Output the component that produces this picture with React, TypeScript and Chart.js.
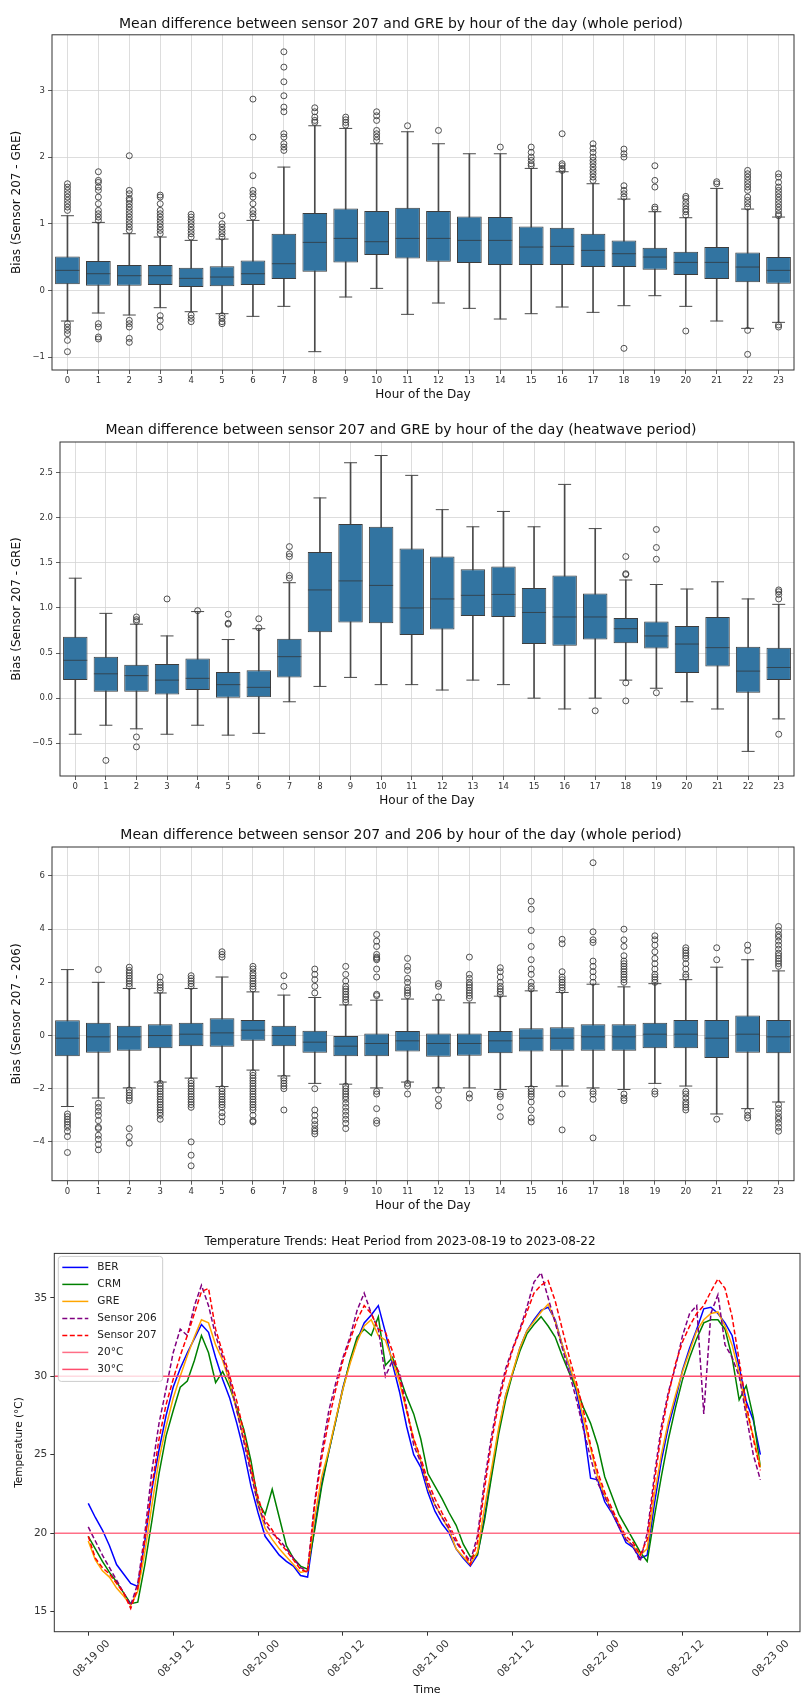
import React, { useEffect, useRef } from 'react';
import { Chart, registerables } from 'chart.js';

Chart.register(...registerables);
Chart.defaults.font.family = '"DejaVu Sans", sans-serif';

// ---------------- shared categories ----------------
const HOURS = ['0','1','2','3','4','5','6','7','8','9','10','11','12','13','14','15','16','17','18','19','20','21','22','23'];

// ---------------- panel 1: sensor 207 - GRE (whole period) ----------------
const P1_LOW = [-0.46,-0.34,-0.37,-0.26,-0.32,-0.35,-0.39,-0.24,-0.92,-0.10,0.03,-0.36,-0.19,-0.27,-0.43,-0.35,-0.25,-0.33,-0.23,-0.08,-0.24,-0.46,-0.57,-0.48];
const P1_Q1 = [0.09,0.07,0.07,0.08,0.05,0.06,0.08,0.17,0.28,0.42,0.53,0.48,0.43,0.41,0.38,0.38,0.38,0.35,0.35,0.31,0.23,0.17,0.12,0.10];
const P1_MED = [0.30,0.25,0.22,0.22,0.18,0.20,0.25,0.40,0.72,0.78,0.73,0.78,0.78,0.75,0.75,0.65,0.66,0.60,0.55,0.50,0.42,0.42,0.35,0.30];
const P1_Q3 = [0.51,0.44,0.38,0.38,0.34,0.36,0.45,0.85,1.16,1.23,1.19,1.24,1.19,1.11,1.10,0.96,0.94,0.85,0.75,0.64,0.58,0.65,0.57,0.50];
const P1_HIGH = [1.12,1.02,0.85,0.80,0.75,0.77,1.05,1.85,2.47,2.43,2.20,2.38,2.20,2.05,2.05,1.83,1.78,1.60,1.37,1.18,1.09,1.53,1.22,1.10];
const P1_OUT = [
  [1.2,1.25,1.3,1.35,1.4,1.45,1.5,1.55,1.6,-0.5,-0.55,-0.6,-0.65,-0.75,-0.92],
  [1.05,1.1,1.15,1.2,1.3,1.4,1.5,1.55,1.62,1.65,1.78,-0.5,-0.55,-0.7,-0.73],
  [0.9,0.95,1.0,1.05,1.1,1.15,1.2,1.25,1.3,1.35,1.38,1.45,1.5,2.02,-0.45,-0.5,-0.55,-0.72,-0.78],
  [0.85,0.9,0.95,1.0,1.05,1.1,1.15,1.2,1.3,1.4,1.43,-0.38,-0.45,-0.55],
  [0.8,0.85,0.9,0.95,1.0,1.05,1.1,1.14,-0.37,-0.42,-0.47],
  [0.8,0.85,0.9,0.95,1.0,1.12,-0.38,-0.42,-0.47,-0.5],
  [1.1,1.15,1.2,1.3,1.4,1.45,1.5,1.72,2.3,2.87],
  [2.1,2.15,2.2,2.3,2.35,2.68,2.75,2.92,3.13,3.35,3.58],
  [2.52,2.55,2.6,2.68,2.74],
  [2.48,2.52,2.56,2.6],
  [2.25,2.3,2.35,2.4,2.55,2.62,2.68],
  [2.47],
  [2.4],
  [],
  [2.15],
  [1.87,1.9,1.95,2.0,2.07,2.15],
  [1.8,1.83,1.87,1.9,2.35],
  [1.65,1.7,1.75,1.8,1.85,1.9,1.95,2.0,2.07,2.13,2.2],
  [1.4,1.45,1.5,1.57,2.0,2.05,2.12,-0.87],
  [1.22,1.25,1.55,1.65,1.87],
  [1.13,1.18,1.22,1.27,1.32,1.38,1.41,-0.61],
  [1.6,1.63],
  [1.25,1.3,1.35,1.4,1.5,1.55,1.6,1.65,1.7,1.75,1.8,-0.6,-0.96],
  [1.12,1.15,1.2,1.25,1.3,1.35,1.4,1.45,1.5,1.55,1.62,1.7,1.75,-0.52,-0.55],
];

// ---------------- panel 2: sensor 207 - GRE (heatwave period) ----------------
const P2_LOW = [-0.40,-0.30,-0.34,-0.40,-0.30,-0.41,-0.39,-0.04,0.13,0.23,0.15,0.15,0.09,0.20,0.15,0.00,-0.12,0.00,0.20,0.11,-0.04,-0.12,-0.59,-0.23];
const P2_Q1 = [0.20,0.07,0.07,0.04,0.09,0.00,0.01,0.23,0.73,0.84,0.83,0.70,0.76,0.91,0.90,0.60,0.58,0.65,0.61,0.55,0.28,0.35,0.06,0.20];
const P2_MED = [0.42,0.27,0.25,0.20,0.22,0.15,0.12,0.46,1.20,1.30,1.25,1.00,1.10,1.14,1.15,0.95,0.90,0.90,0.77,0.69,0.60,0.56,0.30,0.34];
const P2_Q3 = [0.68,0.46,0.37,0.38,0.44,0.29,0.31,0.66,1.62,1.93,1.90,1.66,1.57,1.43,1.46,1.22,1.36,1.16,0.89,0.85,0.80,0.90,0.57,0.56];
const P2_HIGH = [1.33,0.94,0.82,0.69,0.96,0.65,0.77,1.28,2.22,2.61,2.69,2.47,2.09,1.90,2.07,1.90,2.37,1.88,1.31,1.26,1.21,1.29,1.10,1.04];
const P2_OUT = [
  [],
  [-0.69],
  [0.85,0.87,0.90,-0.43,-0.54],
  [1.10],
  [0.97],
  [0.82,0.83,0.93],
  [0.78,0.88],
  [1.33,1.36,1.57,1.60,1.68],
  [], [], [], [], [], [], [], [], [],
  [-0.14],
  [1.37,1.38,1.57,0.17,-0.03],
  [1.54,1.67,1.87,0.06],
  [], [], [],
  [1.10,1.15,1.18,1.20,-0.40],
];

// ---------------- panel 3: sensor 207 - sensor 206 (whole period) ----------------
const P3_LOW = [-2.67,-2.35,-1.97,-1.75,-1.60,-1.92,-1.30,-1.52,-1.80,-1.83,-1.97,-1.75,-1.97,-1.97,-2.03,-1.92,-1.90,-1.97,-2.03,-1.80,-1.90,-2.95,-2.75,-2.50];
const P3_Q1 = [-0.78,-0.65,-0.57,-0.48,-0.40,-0.42,-0.20,-0.40,-0.65,-0.78,-0.78,-0.60,-0.80,-0.76,-0.67,-0.60,-0.57,-0.57,-0.57,-0.48,-0.48,-0.85,-0.65,-0.67];
const P3_MED = [-0.10,-0.05,-0.05,0.00,0.05,0.10,0.20,0.00,-0.25,-0.40,-0.30,-0.20,-0.30,-0.30,-0.20,-0.10,-0.10,-0.05,-0.05,0.05,0.05,-0.10,0.05,-0.05];
const P3_Q3 = [0.57,0.48,0.37,0.42,0.48,0.65,0.58,0.37,0.18,-0.02,0.08,0.17,0.08,0.08,0.17,0.27,0.31,0.42,0.42,0.48,0.58,0.58,0.75,0.58];
const P3_HIGH = [2.48,2.00,1.77,1.60,1.77,2.20,1.64,1.52,1.43,1.15,1.33,1.37,1.33,1.23,1.48,1.68,1.62,1.93,1.83,1.95,2.10,2.57,2.85,2.43];
const P3_OUT = [
  [-2.95,-3.05,-3.15,-3.25,-3.35,-3.45,-3.6,-3.8,-4.4],
  [2.48,-2.55,-2.7,-2.85,-3.0,-3.2,-3.45,-3.5,-3.75,-3.9,-4.1,-4.3],
  [1.85,1.95,2.05,2.15,2.25,2.35,2.45,2.57,-2.05,-2.15,-2.25,-2.35,-2.45,-3.5,-3.8,-4.05],
  [1.7,1.8,1.9,2.0,2.2,-1.8,-1.9,-2.0,-2.1,-2.2,-2.3,-2.4,-2.5,-2.6,-2.7,-2.8,-2.9,-3.0,-3.15],
  [1.85,1.95,2.05,2.15,2.25,-1.7,-1.8,-1.9,-2.0,-2.1,-2.2,-2.3,-2.4,-2.5,-2.6,-2.7,-4.0,-4.5,-4.9],
  [2.95,3.05,3.15,-2.0,-2.1,-2.2,-2.3,-2.4,-2.5,-2.6,-2.7,-2.9,-3.05,-3.25],
  [1.75,1.85,1.95,2.05,2.15,2.25,2.35,2.5,2.6,-1.4,-1.5,-1.6,-1.7,-1.8,-1.9,-2.0,-2.1,-2.2,-2.3,-2.4,-2.5,-2.6,-2.7,-2.8,-3.0,-3.2,-3.25],
  [1.85,2.25,-1.6,-1.7,-1.8,-1.9,-2.0,-2.8],
  [1.6,1.85,2.1,2.3,2.5,-2.0,-2.8,-3.0,-3.2,-3.35,-3.5,-3.6,-3.7],
  [1.25,1.35,1.45,1.55,1.65,1.75,1.85,2.05,2.3,2.6,-1.9,-2.0,-2.1,-2.2,-2.3,-2.4,-2.55,-2.7,-2.85,-3.0,-3.15,-3.3,-3.5],
  [1.5,1.55,2.2,2.5,2.85,2.9,2.95,3.05,3.35,3.55,3.8,-2.1,-2.2,-2.75,-3.2,-3.3],
  [1.5,1.6,1.7,1.8,2.0,2.15,2.45,2.6,2.9,-1.8,-1.9,-2.2],
  [1.45,1.85,1.95,-2.05,-2.4,-2.65],
  [1.4,1.5,1.6,1.7,1.8,1.9,2.0,2.15,2.3,2.95,-2.2,-2.35],
  [1.55,1.65,1.75,1.85,2.0,2.2,2.4,2.55,-2.2,-2.3,-2.7,-3.05],
  [1.75,1.85,2.0,2.3,2.5,2.85,3.35,3.95,4.75,5.05,-2.0,-2.1,-2.2,-2.3,-2.5,-2.8,-3.1,-3.25],
  [1.7,1.8,1.9,2.0,2.1,2.2,2.4,3.45,3.62,-2.2,-3.55],
  [2.0,2.2,2.4,2.6,2.8,3.5,3.6,3.9,6.5,-2.1,-2.2,-2.4,-3.85],
  [2.0,2.1,2.2,2.3,2.4,2.5,2.6,2.7,2.8,3.0,3.35,3.6,4.0,-2.2,-2.35,-2.45],
  [2.0,2.1,2.2,2.3,2.5,2.7,2.9,3.15,3.4,3.6,3.75,-2.1,-2.2],
  [2.2,2.3,2.5,2.7,2.9,3.0,3.1,3.2,3.3,-2.1,-2.2,-2.35,-2.5,-2.6,-2.7,-2.8],
  [2.85,3.3,-3.15],
  [3.2,3.4,-2.85,-3.0,-3.1],
  [2.6,2.7,2.8,2.9,3.0,3.1,3.25,3.4,3.55,3.7,3.8,3.95,4.1,-2.6,-2.75,-2.9,-3.05,-3.15,-3.3,-3.45,-3.6],
];

// ---------------- panel 4: temperature trends (hourly, hours since 2023-08-19 00:00) ----------------
const TIME_HOURS = Array.from({ length: 96 }, (_, i) => i);
const BER = [21.9,21.0,20.2,19.2,18.0,17.4,16.8,16.6,19.5,22.8,25.3,27.5,29.3,30.5,31.5,32.4,33.3,32.8,31.2,29.8,28.6,27.0,25.2,23.0,
  21.3,19.8,19.2,18.6,18.2,17.9,17.3,17.2,20.4,23.2,25.2,27.2,29.3,30.9,32.3,33.4,33.9,34.5,32.8,30.8,29.0,26.8,25.0,24.2,
  22.6,21.4,20.6,20.0,19.0,18.4,17.9,18.6,21.0,23.8,26.5,28.8,30.2,31.8,32.9,33.6,34.2,34.4,33.6,32.0,30.6,29.0,26.8,23.5,
  23.4,22.0,21.3,20.4,19.4,19.1,18.4,18.6,21.8,24.6,26.8,28.5,30.4,31.8,33.0,34.3,34.4,34.0,33.4,32.6,30.6,28.4,27.2,25.0];
const CRM = [19.8,19.0,18.2,17.5,16.9,16.2,15.5,15.6,18.0,20.8,23.8,26.2,27.8,29.3,29.7,31.0,32.6,31.5,29.6,30.3,29.3,28.0,26.6,24.6,
  22.0,21.2,22.8,21.0,19.2,18.4,17.9,17.7,20.2,23.0,25.2,27.2,29.2,31.0,32.5,33.0,32.6,33.8,30.7,31.2,30.0,28.7,27.6,26.0,
  23.8,23.0,22.2,21.3,20.5,19.3,18.5,18.6,20.8,23.6,26.3,28.5,30.2,31.6,32.7,33.3,33.8,33.2,32.5,31.3,30.2,29.2,28.0,27.0,
  25.6,23.6,22.4,21.2,20.4,19.6,18.8,18.2,21.0,23.6,26.0,28.0,29.8,31.2,32.4,33.4,33.6,33.6,33.0,31.2,28.5,29.4,27.4,24.2];
const GRE = [19.5,18.3,17.6,17.2,16.5,16.0,15.4,16.3,18.8,21.8,24.7,26.8,28.6,30.0,31.3,32.5,33.6,33.4,32.0,31.0,29.6,27.8,26.0,24.0,
  21.8,20.3,19.6,19.0,18.5,18.0,17.5,17.6,21.0,23.6,25.3,27.3,29.2,30.8,32.2,33.2,33.6,32.6,32.3,31.0,29.6,27.8,26.0,24.6,
  22.9,21.8,21.0,20.2,19.0,18.5,18.0,18.8,21.6,24.1,26.7,28.8,30.3,31.8,32.9,33.5,34.1,34.6,33.5,32.0,30.7,29.3,27.3,25.4,
  23.6,22.4,21.4,20.6,19.6,19.2,18.6,19.0,22.4,25.0,27.1,28.8,30.3,31.6,32.9,33.6,34.0,34.1,33.2,32.0,30.2,27.8,26.2,24.2];
const SENSOR_206 = [20.4,19.5,18.6,17.8,17.0,16.2,15.4,16.8,20.0,24.0,27.0,29.2,31.5,33.0,32.6,34.5,35.8,34.5,32.6,31.2,29.8,27.8,25.8,23.8,
  21.8,20.6,20.0,19.6,19.0,18.4,17.8,17.6,22.0,25.2,27.8,29.6,31.2,32.5,34.2,35.3,34.0,33.0,30.0,31.0,30.2,28.0,25.6,24.5,
  23.0,21.8,21.0,20.3,19.4,18.8,18.2,19.8,23.3,26.2,28.6,30.5,31.8,33.0,34.4,36.0,36.6,35.0,33.4,31.8,30.2,28.5,26.6,24.8,
  23.2,22.3,21.4,20.4,19.6,19.2,18.2,20.0,23.6,26.8,29.0,30.6,32.6,34.0,34.5,27.6,34.0,35.2,32.0,31.2,30.0,27.5,25.0,23.4];
const SENSOR_207 = [19.8,18.4,17.8,17.4,16.8,16.2,15.2,16.5,19.6,23.0,26.0,28.2,29.8,31.3,32.6,34.0,35.4,35.6,33.0,31.5,30.0,28.4,26.4,24.2,
  22.3,20.8,20.2,19.4,18.9,18.3,17.7,17.5,21.8,24.8,27.2,29.2,31.0,32.3,33.6,34.5,34.0,33.0,32.8,31.6,29.9,27.8,26.0,24.8,
  23.3,22.2,21.3,20.5,19.6,18.8,18.0,19.4,22.8,25.8,28.3,30.2,31.7,32.9,34.1,35.3,35.8,36.1,34.8,33.0,31.2,29.6,27.8,25.6,
  23.9,22.6,21.6,20.6,19.8,19.4,18.6,19.6,23.2,26.4,28.8,30.8,32.2,33.2,34.0,34.5,35.4,36.2,35.6,33.8,31.0,28.2,26.0,24.0];
const THRESHOLD_20 = 20;
const THRESHOLD_30 = 30;
const X_TICK_HOURS = [0, 12, 24, 36, 48, 60, 72, 84, 96];
const X_TICK_LABELS = ['08-19 00','08-19 12','08-20 00','08-20 12','08-21 00','08-21 12','08-22 00','08-22 12','08-23 00'];
const Y_TICKS_TEMP = [15, 20, 25, 30, 35];

// ---------------- styling ----------------
const BOX_FILL = '#3274a1';
const DARK = '#3d3d3d';
const WHISKER = '#4a4a4a';
const GRID = '#d4d4d4';
const TICK_TEXT = '#333333';
const W = 807;

const fmt = (v: number, dec: number) => {
  const s = Math.abs(v).toFixed(dec);
  return v < -1e-9 ? '\u2212' + s : s;
};

const framePlugin = {
  id: 'frame',
  afterDatasetsDraw(chart: any) {
    const { ctx, chartArea: a } = chart;
    ctx.save();
    ctx.strokeStyle = '#333333';
    ctx.lineWidth = 1;
    ctx.strokeRect(a.left, a.top, a.right - a.left, a.bottom - a.top);
    ctx.restore();
  },
};

const insideLegendPlugin = {
  id: 'insideLegend',
  afterDatasetsDraw(chart: any) {
    const { ctx, chartArea: a } = chart;
    const ds = chart.data.datasets;
    ctx.save();
    ctx.font = '10.5px "DejaVu Sans"';
    let tw = 0;
    ds.forEach((d: any) => { tw = Math.max(tw, ctx.measureText(d.label).width); });
    const x0 = a.left + 4;
    const y0 = a.top + 3;
    const w = 39 + tw + 6;
    const h = ds.length * 17 + 6;
    const r = 3;
    ctx.beginPath();
    ctx.moveTo(x0 + r, y0);
    ctx.lineTo(x0 + w - r, y0);
    ctx.quadraticCurveTo(x0 + w, y0, x0 + w, y0 + r);
    ctx.lineTo(x0 + w, y0 + h - r);
    ctx.quadraticCurveTo(x0 + w, y0 + h, x0 + w - r, y0 + h);
    ctx.lineTo(x0 + r, y0 + h);
    ctx.quadraticCurveTo(x0, y0 + h, x0, y0 + h - r);
    ctx.lineTo(x0, y0 + r);
    ctx.quadraticCurveTo(x0, y0, x0 + r, y0);
    ctx.closePath();
    ctx.fillStyle = 'rgba(255,255,255,0.8)';
    ctx.fill();
    ctx.strokeStyle = '#cccccc';
    ctx.lineWidth = 1;
    ctx.stroke();
    ds.forEach((d: any, k: number) => {
      const y = y0 + 11 + k * 17;
      ctx.strokeStyle = d.borderColor;
      ctx.lineWidth = d.borderWidth;
      ctx.setLineDash(d.borderDash || []);
      ctx.beginPath();
      ctx.moveTo(x0 + 4, y);
      ctx.lineTo(x0 + 30, y);
      ctx.stroke();
      ctx.setLineDash([]);
      ctx.fillStyle = '#222222';
      ctx.textBaseline = 'middle';
      ctx.textAlign = 'left';
      ctx.fillText(d.label, x0 + 39, y);
    });
    ctx.restore();
  },
};

type BoxSpec = {
  top: number; height: number; title: string; yTitle: string;
  low: number[]; q1: number[]; med: number[]; q3: number[]; high: number[]; out: number[][];
  yMin: number; yMax: number; step: number; dec: number;
  yWidth: number; xHeight: number; titlePad: { top: number; bottom: number }; xTitlePadBottom: number;
};

const PANELS: BoxSpec[] = [
  {
    top: 0, height: 404,
    title: 'Mean difference between sensor 207 and GRE by hour of the day (whole period)',
    yTitle: 'Bias (Sensor 207 - GRE)',
    low: P1_LOW, q1: P1_Q1, med: P1_MED, q3: P1_Q3, high: P1_HIGH, out: P1_OUT,
    yMin: -1.195, yMax: 3.835, step: 1, dec: 0,
    yWidth: 52, xHeight: 34, titlePad: { top: 16, bottom: 2 }, xTitlePadBottom: 1.5,
  },
  {
    top: 405, height: 410,
    title: 'Mean difference between sensor 207 and GRE by hour of the day (heatwave period)',
    yTitle: 'Bias (Sensor 207 - GRE)',
    low: P2_LOW, q1: P2_Q1, med: P2_MED, q3: P2_Q3, high: P2_HIGH, out: P2_OUT,
    yMin: -0.863, yMax: 2.84, step: 0.5, dec: 1,
    yWidth: 60, xHeight: 39, titlePad: { top: 16.6, bottom: 3.6 }, xTitlePadBottom: 6.5,
  },
  {
    top: 820, height: 410,
    title: 'Mean difference between sensor 207 and 206 by hour of the day (whole period)',
    yTitle: 'Bias (Sensor 207 - 206)',
    low: P3_LOW, q1: P3_Q1, med: P3_MED, q3: P3_Q3, high: P3_HIGH, out: P3_OUT,
    yMin: -5.46, yMax: 7.09, step: 2, dec: 0,
    yWidth: 52, xHeight: 49.3, titlePad: { top: 6.6, bottom: 3.6 }, xTitlePadBottom: 16.5,
  },
];

function boxConfig(p: BoxSpec): any {
  const outliers: { x: string; y: number }[] = [];
  p.out.forEach((vals, i) => vals.forEach((v) => outliers.push({ x: HOURS[i], y: v })));
  const tickFont = { size: 8.5 };
  return {
    type: 'bar',
    data: {
      labels: HOURS,
      datasets: [
        {
          type: 'bar', data: p.low.map((v, i) => [v, p.high[i]]),
          backgroundColor: WHISKER, barThickness: 1, grouped: false, order: 5,
        },
        {
          type: 'bar', data: p.q1.map((v, i) => [v, p.q3[i]]),
          backgroundColor: BOX_FILL, borderColor: DARK, borderWidth: 1, borderSkipped: false,
          barPercentage: 0.8, categoryPercentage: 1, grouped: false, order: 4,
        },
        {
          type: 'line', data: p.low, showLine: false, pointStyle: 'line', pointRadius: 6.5,
          pointBorderColor: WHISKER, pointBorderWidth: 1, order: 3,
        },
        {
          type: 'line', data: p.high, showLine: false, pointStyle: 'line', pointRadius: 6.5,
          pointBorderColor: WHISKER, pointBorderWidth: 1, order: 2,
        },
        {
          type: 'line', data: p.med, showLine: false, pointStyle: 'line', pointRadius: 12,
          pointBorderColor: 'rgba(50,50,50,0.7)', pointBorderWidth: 1, order: 1,
        },
        {
          type: 'line', data: outliers, showLine: false, pointStyle: 'circle', pointRadius: 3,
          pointBorderColor: DARK, pointBackgroundColor: 'rgba(0,0,0,0)', pointBorderWidth: 0.9, order: 0,
        },
      ],
    },
    options: {
      responsive: false,
      maintainAspectRatio: false,
      animation: false,
      devicePixelRatio: 1,
      events: [],
      layout: { padding: { left: 0, right: 5, top: 0, bottom: 0 } },
      plugins: {
        legend: { display: false },
        tooltip: { enabled: false },
        title: {
          display: true, text: p.title, color: '#111111',
          font: { size: 14, weight: 'normal' }, padding: p.titlePad,
        },
      },
      scales: {
        x: {
          type: 'category', offset: true,
          grid: { offset: false, color: GRID, tickColor: '#333333', tickLength: 4, lineWidth: 0.8 },
          border: { display: false },
          ticks: { font: tickFont, color: TICK_TEXT, padding: 2, autoSkip: false, maxRotation: 0 },
          title: {
            display: true, text: 'Hour of the Day', color: '#111111',
            font: { size: 12 }, padding: { top: 0, bottom: p.xTitlePadBottom },
          },
          afterFit: (s: any) => { s.height = p.xHeight; },
        },
        y: {
          type: 'linear', min: p.yMin, max: p.yMax,
          grid: { color: GRID, tickColor: '#333333', tickLength: 4, lineWidth: 0.8 },
          border: { display: false },
          ticks: {
            stepSize: p.step, includeBounds: false, font: tickFont, color: TICK_TEXT, padding: 3,
            callback: (v: number) => fmt(v, p.dec),
          },
          title: {
            display: true, text: p.yTitle, color: '#111111',
            font: { size: 12 }, padding: { top: 10, bottom: 0 },
          },
          afterFit: (s: any) => { s.width = p.yWidth; },
        },
      },
    },
    plugins: [framePlugin],
  };
}

const X_MIN = -4.8;
const X_MAX = 100.6;

function lineConfig(): any {
  const pts = (arr: number[]) => arr.map((v, i) => ({ x: TIME_HOURS[i], y: v }));
  const base = { pointRadius: 0, borderWidth: 1.5, tension: 0, fill: false };
  return {
    type: 'line',
    data: {
      datasets: [
        { ...base, label: 'BER', data: pts(BER), borderColor: '#0000ff', order: 7 },
        { ...base, label: 'CRM', data: pts(CRM), borderColor: '#008000', order: 6 },
        { ...base, label: 'GRE', data: pts(GRE), borderColor: '#ffa500', order: 5 },
        { ...base, label: 'Sensor 206', data: pts(SENSOR_206), borderColor: '#800080', borderDash: [5, 2.5], order: 4 },
        { ...base, label: 'Sensor 207', data: pts(SENSOR_207), borderColor: '#ff0000', borderDash: [5, 2.5], order: 3 },
        { ...base, label: '20\u00b0C', data: [{ x: X_MIN, y: THRESHOLD_20 }, { x: X_MAX, y: THRESHOLD_20 }], borderColor: '#ff6f87', order: 2 },
        { ...base, label: '30\u00b0C', data: [{ x: X_MIN, y: THRESHOLD_30 }, { x: X_MAX, y: THRESHOLD_30 }], borderColor: '#ff4d6d', order: 1 },
      ],
    },
    options: {
      responsive: false,
      maintainAspectRatio: false,
      animation: false,
      devicePixelRatio: 1,
      events: [],
      layout: { padding: { left: 0, right: 7, top: 0, bottom: 0 } },
      plugins: {
        legend: { display: false },
        tooltip: { enabled: false },
        title: {
          display: true, text: 'Temperature Trends: Heat Period from 2023-08-19 to 2023-08-22',
          color: '#111111', font: { size: 12, weight: 'normal' }, padding: { top: 4.5, bottom: 4.5 },
        },
      },
      scales: {
        x: {
          type: 'linear', min: X_MIN, max: X_MAX,
          grid: { drawOnChartArea: false, drawTicks: true, tickLength: 4, tickColor: '#333333', color: '#333333' },
          border: { display: false },
          afterBuildTicks: (s: any) => { s.ticks = X_TICK_HOURS.map((value) => ({ value })); },
          ticks: {
            autoSkip: false, minRotation: 45, maxRotation: 45, font: { size: 10.5 }, color: TICK_TEXT,
            padding: 2, labelOffset: 20,
            callback: (v: number) => X_TICK_LABELS[X_TICK_HOURS.indexOf(v)] ?? '',
          },
          title: { display: true, text: 'Time', color: '#111111', font: { size: 11 }, padding: { top: 0, bottom: 3.4 } },
          afterFit: (s: any) => { s.height = 68.3; },
        },
        y: {
          type: 'linear', min: 13.72, max: 37.83,
          grid: { drawOnChartArea: false, drawTicks: true, tickLength: 4, tickColor: '#333333', color: '#333333' },
          border: { display: false },
          afterBuildTicks: (s: any) => { s.ticks = Y_TICKS_TEMP.map((value) => ({ value })); },
          ticks: { font: { size: 10.5 }, color: TICK_TEXT, padding: 3 },
          title: { display: true, text: 'Temperature (\u00b0C)', color: '#111111', font: { size: 10.5 }, padding: { top: 13.4, bottom: 0 } },
          afterFit: (s: any) => { s.width = 54.3; },
        },
      },
    },
    plugins: [framePlugin, insideLegendPlugin],
  };
}

function ChartCanvas({ top, height, makeConfig }: { top: number; height: number; makeConfig: () => any }) {
  const ref = useRef<HTMLCanvasElement | null>(null);
  useEffect(() => {
    if (!ref.current) return;
    const chart = new Chart(ref.current, makeConfig());
    return () => chart.destroy();
  }, []);
  return (
    <canvas
      ref={ref}
      width={W}
      height={height}
      style={{ position: 'absolute', left: 0, top, width: W, height, display: 'block' }}
    />
  );
}

export default function App() {
  return (
    <div style={{ position: 'absolute', left: 0, top: 0, width: W, height: 1700, background: '#ffffff' }}>
      {PANELS.map((p, i) => (
        <ChartCanvas key={i} top={p.top} height={p.height} makeConfig={() => boxConfig(p)} />
      ))}
      <ChartCanvas top={1230} height={470} makeConfig={lineConfig} />
    </div>
  );
}
